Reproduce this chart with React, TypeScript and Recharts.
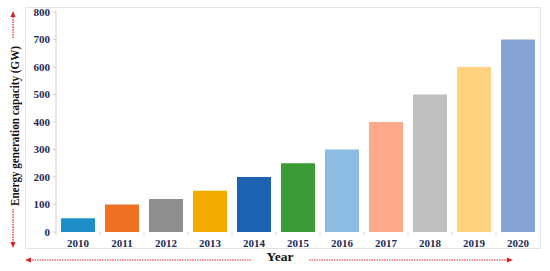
import React from "react";
import { BarChart, Bar, XAxis, YAxis, Cell } from "recharts";

const years = ["2010", "2011", "2012", "2013", "2014", "2015", "2016", "2017", "2018", "2019", "2020"];
const capacity = [50, 100, 120, 150, 200, 250, 300, 400, 500, 600, 700];
const barColors = [
  "#1f8dc6",
  "#ee7124",
  "#8f8f8f",
  "#f4ab00",
  "#1b63b0",
  "#3a9a35",
  "#8dbce3",
  "#fda98a",
  "#bfbfbf",
  "#ffd27f",
  "#87a3d6",
];
const yTicks = [0, 100, 200, 300, 400, 500, 600, 700, 800];

const data = years.map((year, i) => ({ year, capacity: capacity[i] }));

const SERIF = "'Liberation Serif', 'Times New Roman', serif";
const TICK_COLOR = "#1c2b59";
const RED = "#e02020";

// x tick: label under the bar + small mark at the category boundary
const YearTick = (props: any) => {
  const { x, y, payload } = props;
  const half = payload.offset || 0;
  return (
    <g>
      <line x1={x - half} x2={x - half} y1={y - 8} y2={y - 5} stroke="#cfcfcf" />
      <text
        x={x}
        y={y + 7}
        textAnchor="middle"
        fontFamily={SERIF}
        fontWeight={700}
        fontSize={11}
        fill={TICK_COLOR}
      >
        {payload.value}
      </text>
    </g>
  );
};

export default function App() {
  return (
    <div style={{ position: "absolute", left: 0, top: 0, width: 550, height: 271, background: "#fff" }}>
      {/* outer frame */}
      <div
        style={{
          position: "absolute",
          left: 25,
          top: 7,
          width: 516,
          height: 242,
          border: "1px solid #e3e3e3",
          boxSizing: "border-box",
        }}
      />
      <BarChart
        width={550}
        height={271}
        data={data}
        margin={{ top: 12, right: 10, left: 26, bottom: 19 }}
        barCategoryGap={5}
        style={{ position: "absolute", left: 0, top: 0 }}
      >
        <YAxis
          width={30}
          domain={[0, 800]}
          ticks={yTicks}
          interval={0}
          axisLine={{ stroke: "#cfcfcf" }}
          tickLine={{ stroke: "#cfcfcf" }}
          tickSize={3}
          tickMargin={3}
          tick={{ fontFamily: SERIF, fontWeight: 700, fontSize: 11, fill: TICK_COLOR }}
        />
        <XAxis
          dataKey="year"
          height={20}
          axisLine={false}
          tickLine={false}
          interval={0}
          tick={<YearTick />}
        />
        <Bar dataKey="capacity" isAnimationActive={false}>
          {data.map((d, i) => (
            <Cell key={d.year} fill={barColors[i]} />
          ))}
        </Bar>
      </BarChart>
      <svg
        width={550}
        height={271}
        style={{ position: "absolute", left: 0, top: 0, pointerEvents: "none" }}
      >
        <text
          transform="translate(19,126) rotate(-90)"
          textAnchor="middle"
          fontFamily={SERIF}
          fontWeight={700}
          fontSize={12}
          textLength={160}
          lengthAdjust="spacingAndGlyphs"
          fill="#111"
        >
          Energy generation capacity (GW)
        </text>
        {/* vertical arrows */}
        <line x1={13} y1={38} x2={13} y2={16} stroke={RED} strokeWidth={1.2} strokeDasharray="1.5 1" />
        <polygon points="13,11 10.5,17 15.5,17" fill={RED} />
        <line x1={13} y1={209} x2={13} y2={243} stroke={RED} strokeWidth={1.2} strokeDasharray="1.5 1" />
        <polygon points="13,248 10.5,242 15.5,242" fill={RED} />
        {/* horizontal arrows */}
        <line x1={251} y1={260} x2={31} y2={260} stroke={RED} strokeWidth={1.2} strokeDasharray="1.5 1" />
        <polygon points="25,260 31,257.5 31,262.5" fill={RED} />
        <line x1={309} y1={260} x2={507} y2={260} stroke={RED} strokeWidth={1.2} strokeDasharray="1.5 1" />
        <polygon points="513,260 507,257.5 507,262.5" fill={RED} />
        <text
          x={280}
          y={261}
          textAnchor="middle"
          fontFamily={SERIF}
          fontWeight={700}
          fontSize={13.5}
          fill="#111"
        >
          Year
        </text>
      </svg>
    </div>
  );
}
